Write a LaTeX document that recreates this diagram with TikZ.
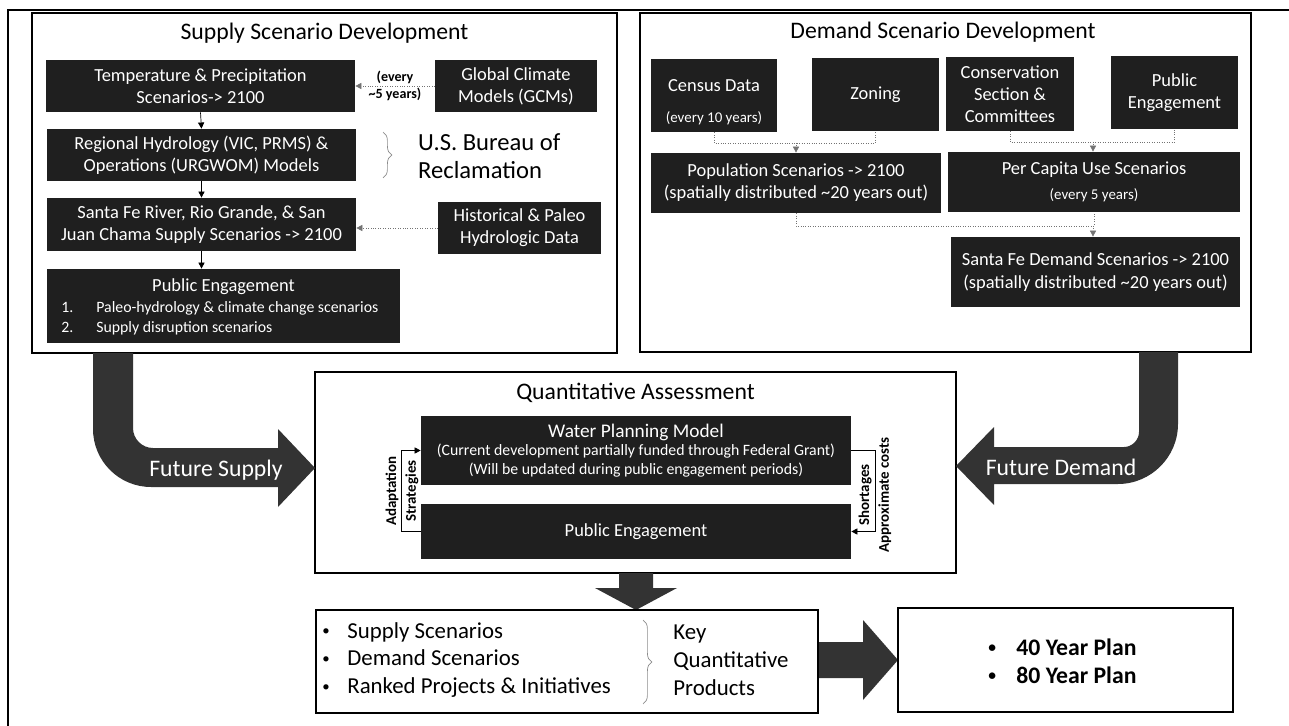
\documentclass[tikz,border=0pt]{standalone}
\usepackage{fontspec}
\setmainfont{Carlito}
\usetikzlibrary{arrows.meta,decorations.pathreplacing,calc}
\newcommand\fs[2]{\fontsize{#1}{#2}\selectfont}
\newcommand\bul[1]{\makebox[#1][l]{\raisebox{0.12em}{\scalebox{0.65}{\textbullet}}}}

\tikzset{
  panel/.style={draw, line width=0.8pt, inner sep=0pt},
  dbox/.style={fill=black!88, text=white, align=center, inner sep=0pt, font=\fs{10.5}{12.5}},
  head/.style={font=\fs{13.5}{16}},
  bigarrow/.style={fill=black!80},
  wtext/.style={text=white, font=\fs{13.5}{16}},
  flow/.style={->, thin},
  dotlink/.style={->, densely dotted, draw=black!55},
  brc/.style={decorate, decoration={brace, amplitude=5pt}, draw=black!45, thin},
  side/.style={rotate=90, font=\bfseries\fs{8.5}{11.3}, align=center}
}

\begin{document}
\begin{tikzpicture}[x=0.02cm, y=-0.02cm, >={Triangle[length=3.5pt,width=3.5pt]}]
    \useasboundingbox (0,0) rectangle (1289,726);
    \clip (0,0) rectangle (1289,726);
    % Outer frame
    \draw[line width=1.1pt] (8,10) rectangle (1320,760);

    % Supply scenario development
    \node[panel, minimum width=11.7cm, minimum height=6.8cm] (supply) at (324.5,183) {};
    \node[head] (suptitle) at (324.5,33) {Supply Scenario Development};
    \node[dbox, minimum width=6.18cm, minimum height=1.04cm] (tp) at (200.5,86) {Temperature \& Precipitation\\Scenarios-> 2100};
    \node[dbox, minimum width=3.24cm, minimum height=1.04cm] (gcm) at (516,86) {Global Climate\\Models (GCMs)};
    \node[dbox, minimum width=6.18cm, minimum height=1.04cm] (hyd) at (201.5,155) {Regional Hydrology (VIC, PRMS) \&\\Operations (URGWOM) Models};
    \node[dbox, minimum width=6.18cm, minimum height=1.06cm] (sfr) at (201.5,224.5) {Santa Fe River, Rio Grande, \& San\\Juan Chama Supply Scenarios -> 2100};
    \node[dbox, minimum width=3.26cm, minimum height=1.04cm] (hist) at (519.5,228) {Historical \& Paleo\\Hydrologic Data};
    \node[dbox, minimum width=7.06cm, minimum height=1.48cm] (pes) at (223.5,306) {};
    \node[text=white, font=\fs{10.5}{12.5}] (pestitle) at (223.5,287) {Public Engagement};
    \node[text=white, font=\fs{9}{11.3}, anchor=west, align=left, inner sep=0pt] (peslist) at (61,318) {\makebox[0.7cm][l]{1.}Paleo-hydrology \& climate change scenarios\\\makebox[0.7cm][l]{2.}Supply disruption scenarios};

    \draw[flow] (tp.south) -- (hyd.north);
    \draw[flow] (hyd.south) -- (sfr.north);
    \draw[flow] (sfr.south) -- (sfr.south |- pes.north);
    \draw[dotlink] (gcm.west) -- node[font=\bfseries\fs{8}{10}, align=center] {(every\\\textasciitilde5 years)} (tp.east);
    \draw[dotlink] (hist.west) -- (hist.west -| sfr.east);

    \draw[brc] (383,132) -- (383,178);
    \node[font=\fs{14}{16}, anchor=west, align=left] (usbr) at (412,156) {U.S. Bureau of\\Reclamation};

    % Demand scenario development
    \node[panel, minimum width=12.22cm, minimum height=6.78cm] (demand) at (945.5,182.5) {};
    \node[head] (demtitle) at (943,32) {Demand Scenario Development};
    \node[dbox, minimum width=2.52cm, minimum height=1.46cm] (cen) at (714,95.5) {};
    \node[text=white, font=\fs{10.5}{12.5}] (centext) at (714,86) {Census Data};
    \node[text=white, font=\fs{8.5}{10}] (cenyears) at (714,118) {(every 10 years)};
    \node[dbox, minimum width=2.54cm, minimum height=1.46cm] (zon) at (875.5,94.5) {Zoning};
    \node[dbox, minimum width=2.56cm, minimum height=1.48cm] (con) at (1010,94) {Conservation\\Section \&\\Committees};
    \node[dbox, minimum width=2.54cm, minimum height=1.46cm] (ped) at (1174.5,92.5) {Public\\Engagement};
    \node[dbox, minimum width=5.8cm, minimum height=1.2cm] (pop) at (796,183) {Population Scenarios -> 2100\\(spatially distributed \textasciitilde20 years out)};
    \node[dbox, minimum width=5.84cm, minimum height=1.2cm] (pcu) at (1094,182) {Per Capita Use Scenarios\\[2pt]{\fs{8.5}{10}(every 5 years)}};
    \node[dbox, minimum width=5.78cm, minimum height=1.4cm, font=\fs{10.5}{13}] (sfd) at (1095.5,272) {Santa Fe Demand Scenarios -> 2100\\(spatially distributed \textasciitilde20 years out)};

    \coordinate (bus1) at (796,143);
    \coordinate (bus2) at (1093,142);
    \coordinate (bus3) at (1093,226);
    \draw[dotlink, -] (cen.south) |- (bus1) -| (zon.south);
    \draw[dotlink] (bus1) -- (pop.north);
    \draw[dotlink, -] (con.south) |- (bus2) -| (ped.south);
    \draw[dotlink] (bus2) -- (bus2 |- pcu.north);
    \draw[dotlink, -] (pop.south) |- (bus3) -| (pcu.south);
    \draw[dotlink] (bus3) -- (bus3 |- sfd.north);

    % Quantitative assessment
    \node[panel, minimum width=12.82cm, minimum height=4.02cm] (quant) at (635.5,472.5) {};
    \node[head] (qtitle) at (635.5,393) {Quantitative Assessment};
    \node[dbox, minimum width=8.6cm, minimum height=1.38cm, font=\fs{9}{10.5}] (wpm) at (636,450.5) {{\fs{11}{12.5}Water Planning Model}\\(Current development partially funded through Federal Grant)\\(Will be updated during public engagement periods)};
    \node[dbox, minimum width=8.6cm, minimum height=1.1cm] (peq) at (636,531.5) {Public Engagement};
    \draw[flow] (peq.west) -- ++(-19,0) |- (wpm.west);
    \node[side] (adapt) at (402,491) {Adaptation\\Strategies};
    \draw[flow] (wpm.east) -- ++(24,0) |- (peq.east);
    \node[side] (short) at (875,495) {Shortages\\Approximate costs};

    % Big arrows
    \fill[bigarrow] (93,353) -- (93,429) .. controls (93,461) and (119,487) .. (151,487) -- (278,487) -- (278,507) -- (315,468) -- (278,429) -- (278,448) -- (153,448) .. controls (142,448) and (133,439) .. (133,428) -- (133,353) -- cycle;
    \node[wtext] (fsup) at (216,470) {Future Supply};
    \fill[bigarrow] (1178,352) -- (1178,424) .. controls (1178,457) and (1151,484) .. (1118,484) -- (994,484) -- (994,505) -- (956,466) -- (994,427) -- (994,447) -- (1124,447) .. controls (1132,447) and (1139,440) .. (1139,432) -- (1139,352) -- cycle;
    \node[wtext] (fdem) at (1061,467) {Future Demand};
    \fill[bigarrow] (619,573) -- (619,588) -- (595,588) -- (636,610) -- (677,588) -- (653,588) -- (653,573) -- cycle;
    \fill[bigarrow] (818,642) -- (863,642) -- (863,620) -- (898,660) -- (863,700) -- (863,678) -- (818,678) -- cycle;

    % Products
    \node[panel, minimum width=10.04cm, minimum height=2.06cm] (prod) at (567,661.5) {};
    \node[anchor=west, align=left, inner sep=0pt, font=\fs{13}{15.9}] (prodlist) at (322,660) {\bul{0.5cm}Supply Scenarios\\\bul{0.5cm}Demand Scenarios\\\bul{0.5cm}Ranked Projects \& Initiatives};
    \draw[brc] (643,620) -- (643,704);
    \node[anchor=west, align=left, inner sep=0pt, font=\fs{13}{15.9}] (keyprod) at (673,660) {Key\\Quantitative\\Products};
    \node[panel, minimum width=6.7cm, minimum height=2.08cm] (plan) at (1065.5,660) {};
    \node[anchor=west, align=left, inner sep=0pt, font=\bfseries\fs{13.5}{15.9}] (planlist) at (988,661) {\bul{0.56cm}40 Year Plan\\\bul{0.56cm}80 Year Plan};
\end{tikzpicture}
\end{document}
